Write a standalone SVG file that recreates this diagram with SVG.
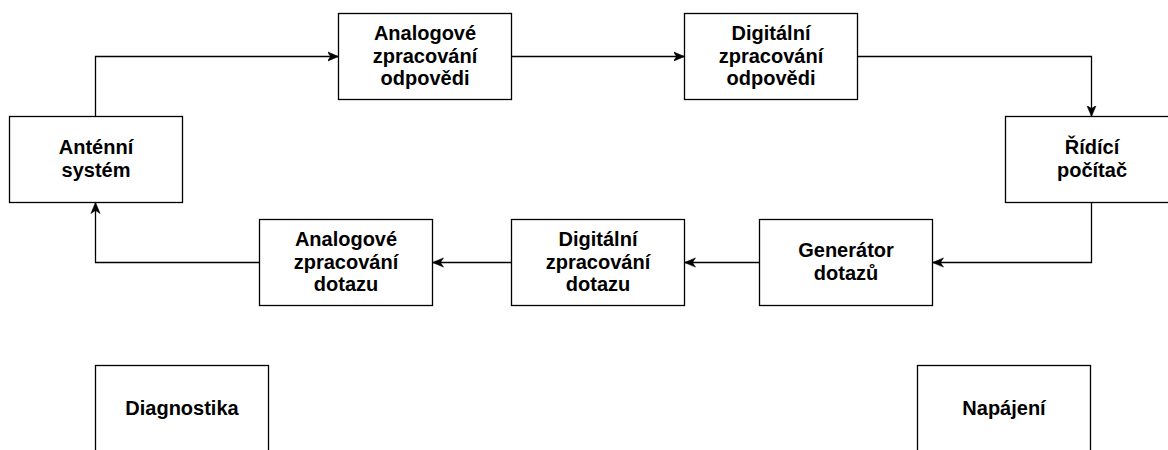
<svg xmlns="http://www.w3.org/2000/svg" width="1168" height="450" viewBox="0 0 1168 450">
<style>
.box{fill:#ffffff;stroke:#000000;stroke-width:1.3}
.lbl{font-family:"Liberation Sans",Arial,Helvetica,sans-serif;font-weight:bold;font-size:20px;fill:#000000;text-anchor:middle}
.edge{fill:none;stroke:#000000;stroke-width:1.3;marker-end:url(#arr)}
</style>
<defs>
<marker id="arr" viewBox="0 0 10 10" markerWidth="11" markerHeight="11" refX="10" refY="5" orient="auto" markerUnits="userSpaceOnUse">
<path d="M0,0.8 L10,5 L0,9.2 L2.8,5 z" fill="#000000" stroke="#000000" stroke-width="0.5"/>
</marker>
</defs>
<rect width="1168" height="450" fill="#ffffff"/>
<g id="connectors">
<path class="edge" d="M95.5,116.5 V56.5 H338.5"/>
<path class="edge" d="M511.5,56.5 H684.5"/>
<path class="edge" d="M857.5,56.5 H1091.5 V116.5"/>
<path class="edge" d="M1091.5,202.5 V262.5 H932.5"/>
<path class="edge" d="M759.5,262.5 H684.5"/>
<path class="edge" d="M511.5,262.5 H432.5"/>
<path class="edge" d="M259.5,262.5 H95.5 V202.5"/>
</g>
<g id="antenni-system">
<rect class="box" x="9.5" y="116.5" width="173" height="86"/>
<text class="lbl" x="96" y="154">Anténní</text>
<text class="lbl" x="96" y="176.8">systém</text>
</g>
<g id="analogove-zpracovani-odpovedi">
<rect class="box" x="338.5" y="13.5" width="173" height="86"/>
<text class="lbl" x="425" y="39.7">Analogové</text>
<text class="lbl" x="425" y="62.5">zpracování</text>
<text class="lbl" x="425" y="85.3">odpovědi</text>
</g>
<g id="digitalni-zpracovani-odpovedi">
<rect class="box" x="684.5" y="13.5" width="173" height="86"/>
<text class="lbl" x="771" y="39.7">Digitální</text>
<text class="lbl" x="771" y="62.5">zpracování</text>
<text class="lbl" x="771" y="85.3">odpovědi</text>
</g>
<g id="ridici-pocitac">
<rect class="box" x="1005.5" y="116.5" width="173" height="86"/>
<text class="lbl" x="1092" y="154">Řídící</text>
<text class="lbl" x="1092" y="176.8">počítač</text>
</g>
<g id="generator-dotazu">
<rect class="box" x="759.5" y="219.5" width="173" height="86"/>
<text class="lbl" x="846" y="257">Generátor</text>
<text class="lbl" x="846" y="279.8">dotazů</text>
</g>
<g id="digitalni-zpracovani-dotazu">
<rect class="box" x="511.5" y="219.5" width="173" height="86"/>
<text class="lbl" x="598" y="245.7">Digitální</text>
<text class="lbl" x="598" y="268.5">zpracování</text>
<text class="lbl" x="598" y="291.3">dotazu</text>
</g>
<g id="analogove-zpracovani-dotazu">
<rect class="box" x="259.5" y="219.5" width="173" height="86"/>
<text class="lbl" x="346" y="245.7">Analogové</text>
<text class="lbl" x="346" y="268.5">zpracování</text>
<text class="lbl" x="346" y="291.3">dotazu</text>
</g>
<g id="diagnostika">
<rect class="box" x="95.5" y="365.5" width="173" height="86"/>
<text class="lbl" x="182" y="414.5">Diagnostika</text>
</g>
<g id="napajeni">
<rect class="box" x="917.5" y="365.5" width="173" height="86"/>
<text class="lbl" x="1004" y="414.5">Napájení</text>
</g>
</svg>
